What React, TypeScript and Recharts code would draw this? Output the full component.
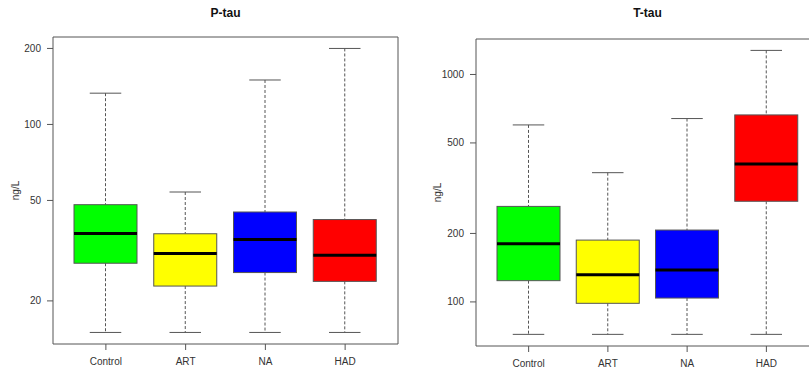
import React from "react";
import { ComposedChart, Bar, Cell, XAxis, YAxis } from "recharts";

const categories = ["Control", "ART", "NA", "HAD"];
const boxColors = ["#00ff00", "#ffff00", "#0000ff", "#ff0000"];

// P-tau (ng/L)
const ptauMin = [15, 15, 15, 15];
const ptauQ1 = [28.2, 22.9, 25.9, 23.9];
const ptauMedian = [37.0, 30.8, 35.0, 30.3];
const ptauQ3 = [48.1, 36.9, 45.0, 42.0];
const ptauMax = [133, 54, 150, 200];
const ptauTicks = [20, 50, 100, 200];

// T-tau (ng/L)
const ttauMin = [72, 72, 72, 72];
const ttauQ1 = [124, 98.6, 104, 277];
const ttauMedian = [180, 131.5, 138, 404];
const ttauQ3 = [263, 187, 207, 664];
const ttauMax = [600, 370, 640, 1276];
const ttauTicks = [100, 200, 500, 1000];

const FONT = '"Liberation Sans", Arial, sans-serif';
const INK = "#555";

function buildRows(min: number[], q1: number[], med: number[], q3: number[], max: number[]) {
  return categories.map((name, i) => ({
    name,
    min: min[i],
    q1: q1[i],
    median: med[i],
    q3: q3[i],
    max: max[i],
    range: [min[i], max[i]],
  }));
}

// draws whiskers, box and median inside the bar's [min, max] pixel span (log axis)
const BoxShape = (props: any) => {
  const { x, y, width, height, payload, fill } = props;
  const top = Math.min(y, y + height);
  const h = Math.abs(height);
  const lmax = Math.log(payload.max);
  const lmin = Math.log(payload.min);
  const py = (v: number) => top + (h * (lmax - Math.log(v))) / (lmax - lmin);
  const cx = x + width / 2;
  const cap = width / 4;
  const yMax = py(payload.max);
  const yMin = py(payload.min);
  const yQ3 = py(payload.q3);
  const yQ1 = py(payload.q1);
  const yMed = py(payload.median);
  return (
    <g>
      <line x1={cx} x2={cx} y1={yMax} y2={yQ3} stroke={INK} strokeDasharray="3 2" />
      <line x1={cx} x2={cx} y1={yQ1} y2={yMin} stroke={INK} strokeDasharray="3 2" />
      <line x1={cx - cap} x2={cx + cap} y1={yMax} y2={yMax} stroke={INK} />
      <line x1={cx - cap} x2={cx + cap} y1={yMin} y2={yMin} stroke={INK} />
      <rect x={x} y={yQ3} width={width} height={yQ1 - yQ3} fill={fill} stroke={INK} />
      <line x1={x} x2={x + width} y1={yMed} y2={yMed} stroke="#000" strokeWidth={3} />
    </g>
  );
};

interface PanelProps {
  title: string;
  rows: ReturnType<typeof buildRows>;
  ticks: number[];
  domain: [number, number];
  width: number;
  yWidth: number;
  xHeight: number;
  top: number;
  right: number;
  labelOffset: number;
}

function BoxPanel({ title, rows, ticks, domain, width, yWidth, xHeight, top, right, labelOffset }: PanelProps) {
  const tickStyle = { fontSize: 10, fill: "#333", fontFamily: FONT };
  return (
    <div style={{ position: "relative", width, height: 376 }}>
      <div
        style={{
          position: "absolute",
          left: yWidth,
          width: width - yWidth - right - 1,
          top: 5,
          textAlign: "center",
          fontFamily: FONT,
          fontWeight: "bold",
          fontSize: 12,
          lineHeight: "16px",
          color: "#111",
        }}
      >
        {title}
      </div>
      <ComposedChart
        width={width}
        height={376}
        data={rows}
        margin={{ top: top - 1, right, bottom: 0, left: 0 }}
      >
        <XAxis
          dataKey="name"
          height={xHeight}
          padding={{ left: 13, right: 13 }}
          tick={tickStyle}
          tickSize={6}
          tickMargin={8}
          axisLine={{ stroke: INK }}
          tickLine={{ stroke: INK }}
        />
        <XAxis
          xAxisId="top"
          orientation="top"
          dataKey="name"
          height={1}
          padding={{ left: 13, right: 13 }}
          tick={false}
          tickLine={false}
          axisLine={{ stroke: INK }}
        />
        <YAxis
          scale="log"
          domain={domain}
          allowDataOverflow
          ticks={ticks}
          width={yWidth}
          tick={tickStyle}
          tickSize={6}
          tickMargin={6}
          axisLine={{ stroke: INK }}
          tickLine={{ stroke: INK }}
          label={{
            value: "ng/L",
            angle: -90,
            position: "insideLeft",
            offset: labelOffset,
            textAnchor: "middle",
            style: { fontSize: 10, fill: "#333", fontFamily: FONT, textAnchor: "middle" },
          }}
        />
        <YAxis
          yAxisId="right"
          orientation="right"
          scale="log"
          domain={domain}
          allowDataOverflow
          width={1}
          tick={false}
          tickLine={false}
          axisLine={{ stroke: INK }}
        />
        <Bar dataKey="range" barSize={63} shape={<BoxShape />} isAnimationActive={false}>
          {rows.map((r, i) => (
            <Cell key={r.name} fill={boxColors[i]} />
          ))}
        </Bar>
      </ComposedChart>
    </div>
  );
}

export default function App() {
  const ptauRows = buildRows(ptauMin, ptauQ1, ptauMedian, ptauQ3, ptauMax);
  const ttauRows = buildRows(ttauMin, ttauQ1, ttauMedian, ttauQ3, ttauMax);
  return (
    <div
      style={{
        position: "absolute",
        left: 0,
        top: 0,
        width: 809,
        height: 376,
        overflow: "hidden",
        background: "#fff",
      }}
    >
      <div style={{ position: "absolute", left: 0, top: 0 }}>
        <BoxPanel
          title="P-tau"
          rows={ptauRows}
          ticks={ptauTicks}
          domain={[13.5, 222]}
          width={400}
          yWidth={53}
          xHeight={32}
          top={37}
          right={1}
          labelOffset={15}
        />
      </div>
      <div style={{ position: "absolute", left: 405, top: 0 }}>
        <BoxPanel
          title="T-tau"
          rows={ttauRows}
          ticks={ttauTicks}
          domain={[64, 1432]}
          width={415}
          yWidth={71}
          xHeight={30}
          top={39}
          right={0}
          labelOffset={32}
        />
      </div>
    </div>
  );
}
